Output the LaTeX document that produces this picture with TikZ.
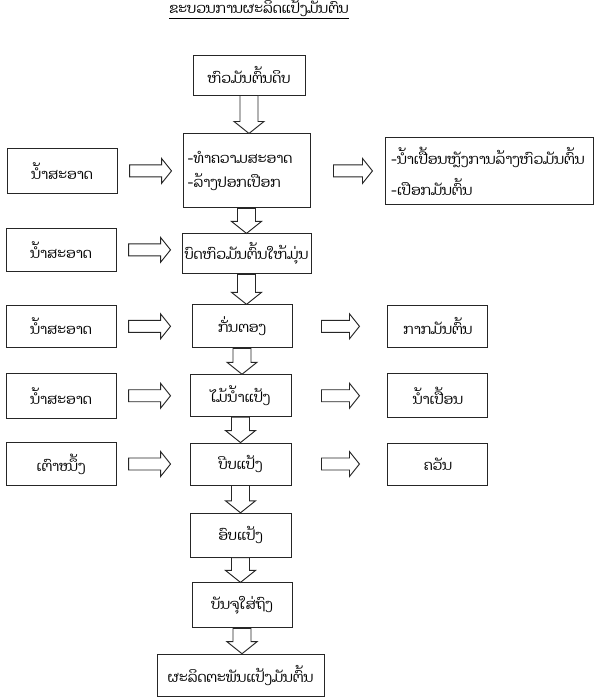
\documentclass[tikz,border=0pt]{standalone}
\usepackage{fontspec}
\newfontfamily\laofont[Script=Lao]{Dhyana}
\usetikzlibrary{positioning,calc}

% hollow block arrows between boxes
\newcommand{\flowdown}[2]{%
  \draw[hollow] let \p1=(#1.south), \p2=(#2.north) in
    (\x1-0.27cm,\y1) -- (\x1-0.27cm,\y2+0.36cm) -- (\x1-0.45cm,\y2+0.36cm) -- (\x1,\y2)
    -- (\x1+0.45cm,\y2+0.36cm) -- (\x1+0.27cm,\y2+0.36cm) -- (\x1+0.27cm,\y1) -- cycle;}
\newcommand{\flowright}[4]{%
  \draw[hollow] let \p1=($(#1.east)+(#3,0)$), \p2=($(#2.west)-(#4,0)$) in
    (\x1,\y1+0.18cm) -- (\x2-0.3cm,\y1+0.18cm) -- (\x2-0.3cm,\y1+0.375cm) -- (\x2,\y1)
    -- (\x2-0.3cm,\y1-0.375cm) -- (\x2-0.3cm,\y1-0.18cm) -- (\x1,\y1-0.18cm) -- cycle;}

\begin{document}
\begin{tikzpicture}[
    stage/.style={rectangle, draw=black!85, line width=0.8pt, fill=white, text centered, inner sep=2pt, font=\laofont\fontsize{12}{14}\selectfont},
    input/.style={stage, minimum width=3.3cm, minimum height=1.28cm},
    waste/.style={stage, minimum width=3.0cm, minimum height=1.26cm},
    hollow/.style={draw=black!85, line width=0.8pt, fill=white}
]
\useasboundingbox (0,0) rectangle (18,-21);

% Main process column
\node[stage, minimum width=3.36cm, minimum height=1.2cm] (raw) at (7.47,-2.25) {ຫົວມັນຕົ້ນດິບ};
\node[stage, minimum width=3.81cm, minimum height=2.22cm, align=left, text width=3.55cm, below=1.14cm of raw, xshift=-0.075cm] (clean) {-ທຳຄວາມສະອາດ\\[6pt]-ລ້າງປອກເປືອກ};
\node[stage, minimum width=3.87cm, minimum height=1.2cm, below=0.75cm of clean] (grind) {ບົດຫົວມັນຕົ້ນໃຫ້ມຸ່ນ};
\node[stage, minimum width=3.0cm, minimum height=1.29cm, below=0.9cm of grind, xshift=-0.135cm] (filter) {ກັ່ນຕອງ};
\node[stage, minimum width=3.03cm, minimum height=1.26cm, below=0.78cm of filter, xshift=-0.045cm] (settle) {ໄມ້ນ້ຳແປ້ງ};
\node[stage, minimum width=3.03cm, minimum height=1.26cm, below=0.76cm of settle] (press) {ບີບແປ້ງ};
\node[stage, minimum width=3.03cm, minimum height=1.32cm, below=0.82cm of press] (dry) {ອົບແປ້ງ};
\node[stage, minimum width=3.0cm, minimum height=1.35cm, below=0.74cm of dry, xshift=0.045cm] (pack) {ບັນຈຸໃສ່ຖົງ};
\node[stage, minimum width=5.01cm, minimum height=1.26cm, below=0.76cm of pack, xshift=-0.045cm] (product) {ຜະລິດຕະພັນແປ້ງມັນຕົ້ນ};

% Title
\node[font=\laofont\fontsize{12}{14}\selectfont, above=0.95cm of raw, xshift=0.3cm] (title) {\underline{ຂະບວນການຜະລິດແປ້ງມັນຕົ້ນ}};

% Inputs
\node[input, minimum height=1.35cm, left=1.95cm of clean] (water1) {ນ້ຳສະອາດ};
\node[input, left=1.95cm of grind, yshift=0.12cm] (water2) {ນ້ຳສະອາດ};
\node[input, left=2.25cm of filter] (water3) {ນ້ຳສະອາດ};
\node[input, minimum height=1.35cm, left=2.19cm of settle] (water4) {ນ້ຳສະອາດ};
\node[input, left=2.19cm of press] (stove) {ເຕົາໜຶ້ງ};

% Outputs
\node[stage, minimum width=6.24cm, minimum height=2.01cm, align=left, text width=5.95cm, right=2.25cm of clean] (washwater) {-ນ້ຳເປື້ອນຫຼັງການລ້າງຫົວມັນຕົ້ນ\\[8pt]-ເປືອກມັນຕົ້ນ};
\node[waste, right=2.85cm of filter] (pulp) {ກາກມັນຕົ້ນ};
\node[waste, minimum height=1.32cm, right=2.88cm of settle] (wastewater) {ນ້ຳເປື້ອນ};
\node[waste, right=2.88cm of press] (smoke) {ຄວັນ};

% Arrows down
\flowdown{raw}{clean}
\flowdown{clean}{grind}
\flowdown{grind}{filter}
\flowdown{filter}{settle}
\flowdown{settle}{press}
\flowdown{press}{dry}
\flowdown{dry}{pack}
\flowdown{pack}{product}

% Arrows in
\flowright{water1}{clean}{0.36cm}{0.33cm}
\flowright{water2}{grind}{0.36cm}{0.33cm}
\flowright{water3}{filter}{0.36cm}{0.63cm}
\flowright{water4}{settle}{0.36cm}{0.57cm}
\flowright{stove}{press}{0.36cm}{0.57cm}

% Arrows out
\flowright{clean}{washwater}{0.69cm}{0.39cm}
\flowright{filter}{pulp}{0.87cm}{0.84cm}
\flowright{settle}{wastewater}{0.9cm}{0.84cm}
\flowright{press}{smoke}{0.9cm}{0.84cm}

\end{tikzpicture}
\end{document}
